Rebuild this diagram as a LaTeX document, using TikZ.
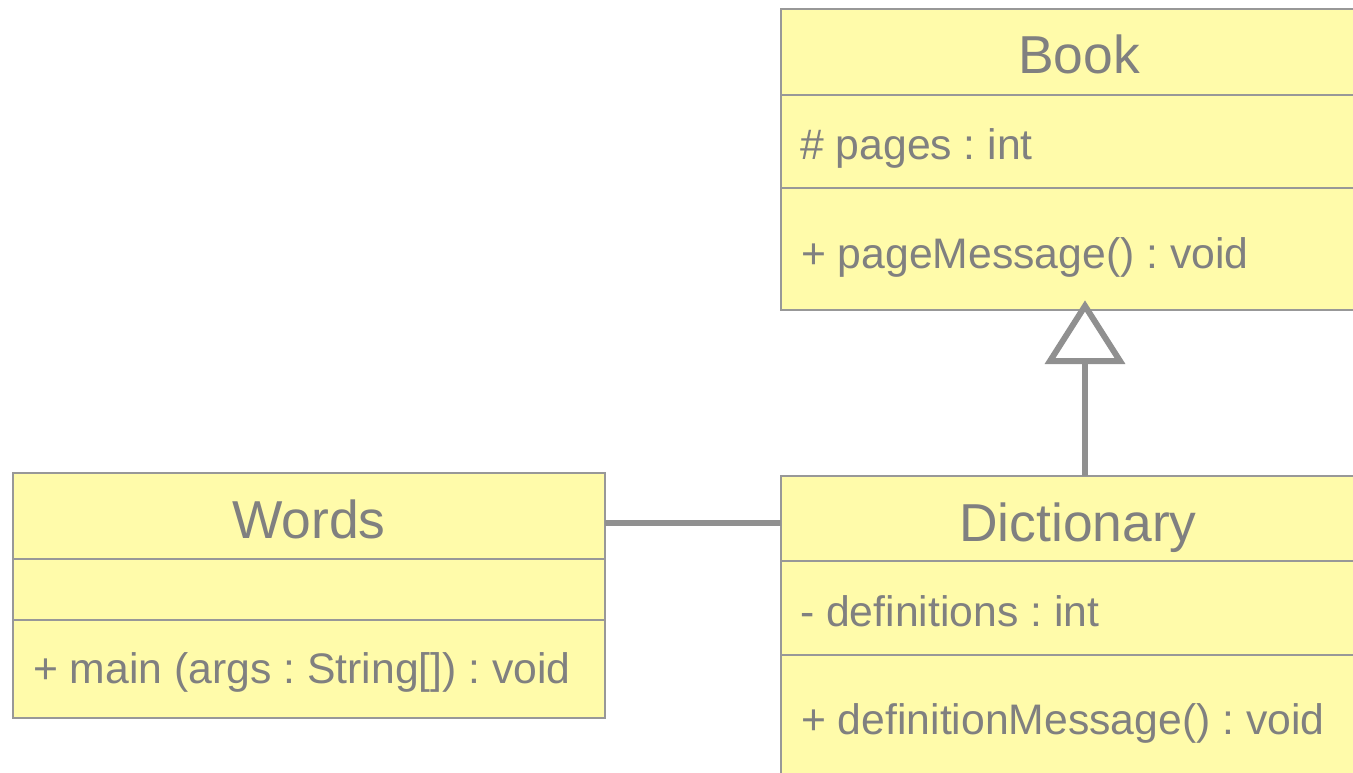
\documentclass[tikz,border=0pt]{standalone}
\usepackage{fontspec}
\setmainfont{Liberation Sans}
\frenchspacing
\definecolor{classfill}{RGB}{255,251,170}
\definecolor{edge}{RGB}{152,152,152}
\definecolor{wire}{RGB}{144,144,144}
\definecolor{ink}{RGB}{128,128,128}
\tikzset{
  classbox/.style={draw=edge, line width=2.8pt, fill=classfill, rectangle,
    anchor=north west, inner sep=0pt, outer sep=0pt},
  divider/.style={draw=edge, line width=2.8pt},
  title/.style={text=ink, font=\fontsize{53.4}{53.4}\selectfont, anchor=base, inner sep=0pt},
  member/.style={text=ink, font=\fontsize{42.7}{42.7}\selectfont, anchor=base west, inner sep=0pt},
  assoc/.style={draw=wire, line width=6pt},
  gen/.style={draw=wire, line width=6pt},
}
\begin{document}
\begin{tikzpicture}[x=1pt, y=-1pt]
\useasboundingbox (0,0) rectangle (1353,773);
\clip (0,0) rectangle (1353,773);

% Book
\node[classbox, minimum width=596pt, minimum height=301pt] (book) at (781,9) {};
\draw[divider] (book.west |- 0,95) -- (book.east |- 0,95);
\draw[divider] (book.west |- 0,188) -- (book.east |- 0,188);
\node[title] (booktitle) at (1079,74) {Book};
\node[member] (bookattr) at (800,160) {\# pages : int};
\node[member] (bookop) at (801,268) {+ pageMessage() : void};

% Dictionary
\node[classbox, minimum width=596pt, minimum height=340pt] (dict) at (781,476) {};
\draw[divider] (dict.west |- 0,561) -- (dict.east |- 0,561);
\draw[divider] (dict.west |- 0,655) -- (dict.east |- 0,655);
\node[title] (dicttitle) at (1078,541) {Dictionary};
\node[member] (dictattr) at (800,626) {- definitions : int};
\node[member] (dictop) at (801,734) {+ definitionMessage() : void};

% Words
\node[classbox, minimum width=592pt, minimum height=245pt] (words) at (13,473) {};
\draw[divider] (words.west |- 0,559) -- (words.east |- 0,559);
\draw[divider] (words.west |- 0,620) -- (words.east |- 0,620);
\node[title] (wordstitle) at (309,538) {Words};
\node[member] (wordsop) at (33,683) {+ main (args : String[]) : void};

% Association Words -- Dictionary
\draw[assoc] (words.east |- 0,523) -- (dict.west |- 0,523);

% Generalization Dictionary -> Book
\coordinate (apex) at (book.south -| 1085,0);
\coordinate (tipbase) at (1085,361);
\draw[gen] (dict.north -| apex) -- (tipbase);
\draw[gen, fill=white, line join=miter] ([yshift=4pt]apex) -- (1050,361) -- (1120,361) -- cycle;
\end{tikzpicture}
\end{document}
